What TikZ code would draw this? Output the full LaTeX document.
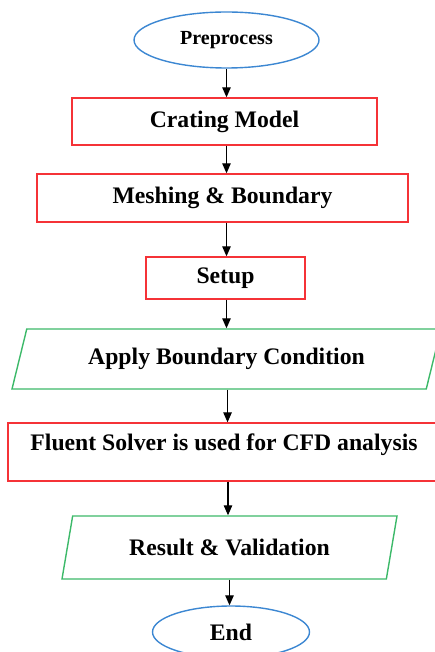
\documentclass[tikz,border=0pt]{standalone}
\usepackage{fontspec}
\setmainfont{Liberation Serif}
\usetikzlibrary{shapes.geometric, arrows.meta}

\definecolor{boxred}{RGB}{245,50,55}
\definecolor{iogreen}{RGB}{60,185,105}
\definecolor{termblue}{RGB}{60,135,210}

\begin{document}
\begin{tikzpicture}[x = 1pt, y = -1pt, % one unit = one pixel
                > = {Stealth[length=10pt, width=8.5pt, inset=0pt]}, % arrow head style
                line width = 1.4pt % line style
            ]

            \tikzstyle{every node}=[inner sep = 0pt, font = \fontsize{23.7}{28}\selectfont\bfseries]
            \tikzstyle{term}=[draw = termblue, ellipse, minimum width = 157pt, minimum height = 52pt]
            \tikzstyle{stepbox}=[draw = boxred, rectangle]
            \tikzstyle{iobox}=[draw = iogreen, trapezium, trapezium stretches body]
            \tikzstyle{flow}=[->, line width = 1.2pt]

            \useasboundingbox (0,0) rectangle (434,652);

            \node (pre) [term, minimum width = 185pt, minimum height = 56pt,
                font = \fontsize{20}{24}\selectfont\bfseries] at (226.5,40) {Preprocess};
            \node (crate) [stepbox, minimum width = 305pt, minimum height = 47pt]
                at (224.5,121.5) {Crating Model};
            \node (mesh) [stepbox, minimum width = 371pt, minimum height = 48pt]
                at (222.5,198) {Meshing \& Boundary};
            \node (setup) [stepbox, minimum width = 159pt, minimum height = 42pt]
                at (225.5,278) {Setup};
            \node (apply) [iobox, trapezium left angle = 55.6, trapezium right angle = 124.4,
                minimum width = 429pt, minimum height = 60pt] at (226.5,359) {Apply Boundary Condition};
            \node (solver) [stepbox, minimum width = 432pt, text height = 27pt, text depth = 31pt]
                at (224,452) {Fluent Solver is used for CFD analysis};
            \node (result) [iobox, trapezium left angle = 57.6, trapezium right angle = 122.4,
                minimum width = 335pt, minimum height = 63pt] at (229.5,547.5) {Result \& Validation};
            \node (end) [term, minimum height = 52pt] at (231,632) {End};

            \draw[flow] (pre.south) -- (pre.south |- crate.north); \draw[flow] ([xshift=2pt]crate.south)
            -- ([xshift=2pt]crate.south |- mesh.north); \draw[flow] ([xshift=4pt]mesh.south) --
            ([xshift=4pt]mesh.south |- setup.north); \draw[flow] ([xshift=1pt]setup.south) --
            ([xshift=1pt]setup.south |- apply.north); \draw[flow] ([xshift=1pt]apply.south) --
            ([xshift=1pt]apply.south |- solver.north); \draw[flow] ([xshift=4pt]solver.south) --
            ([xshift=4pt]solver.south |- result.north); \draw[flow] (result.south) -- (result.south
            |- end.north);
\end{tikzpicture}
\end{document}
